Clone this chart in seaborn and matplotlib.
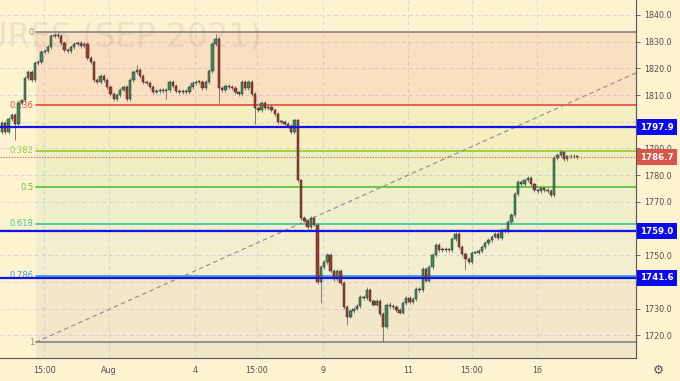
import seaborn as sns
import matplotlib.pyplot as plt
import numpy as np
import pandas as pd

# closes of each bar, the first bar opens at first_open
first_open = 1796.0
closes = [
    1799.5, 1796.0, 1801.0, 1802.5, 1799.0, 1807.0, 1808.0, 1816.5, 1818.5, 1815.6,
    1822.0, 1822.5, 1826.0, 1826.5, 1828.0, 1832.0, 1832.5, 1832.0, 1829.5, 1827.0,
    1826.5, 1828.0, 1829.0, 1829.5, 1828.5, 1829.0, 1824.0, 1822.5, 1815.6, 1815.0,
    1817.0, 1815.5, 1813.0, 1810.5, 1808.5, 1810.0, 1812.0, 1813.0, 1808.5, 1815.6,
    1818.6, 1819.5, 1817.0, 1815.0, 1814.5, 1813.0, 1811.0, 1811.5, 1812.0, 1811.5,
    1812.0, 1815.0, 1813.5, 1811.5, 1811.0, 1811.5, 1811.0, 1813.0, 1814.5, 1815.0,
    1815.0, 1812.5, 1815.0, 1819.0, 1829.0, 1831.0, 1812.6, 1812.0, 1813.5, 1813.0,
    1812.5, 1811.0, 1810.5, 1815.0, 1812.5, 1815.0, 1810.5, 1805.0, 1804.5, 1807.0,
    1805.0, 1805.5, 1804.5, 1803.0, 1800.0, 1800.0, 1799.2, 1798.5, 1796.0, 1800.5,
    1778.0, 1764.0, 1763.0, 1760.5, 1764.0, 1761.5, 1740.0, 1745.6, 1747.5, 1750.0,
    1744.0, 1741.0, 1744.0, 1739.5, 1730.5, 1727.0, 1729.0, 1730.0, 1731.0, 1734.5,
    1734.0, 1737.0, 1733.0, 1731.5, 1733.0, 1728.0, 1723.0, 1731.5, 1731.0, 1730.5,
    1729.5, 1728.5, 1732.0, 1734.0, 1732.5, 1733.5, 1737.5, 1737.0, 1745.0, 1740.5,
    1745.5, 1750.0, 1753.8, 1752.0, 1752.3, 1752.0, 1752.0, 1756.0, 1758.0, 1753.0,
    1750.5, 1748.5, 1747.5, 1751.0, 1751.0, 1751.5, 1753.0, 1754.5, 1755.7, 1757.0,
    1758.0, 1756.5, 1759.5, 1759.0, 1762.5, 1765.0, 1773.0, 1777.5, 1776.5, 1778.0,
    1779.0, 1776.5, 1774.5, 1774.0, 1775.0, 1774.5, 1774.0, 1772.5, 1786.5, 1787.5,
    1788.5, 1786.0, 1787.0, 1787.3, 1787.0, 1786.7,
]
# long wicks that stick out
wick_highs = {41: 1821.3, 65: 1833.0, 111: 1738.0, 118: 1732.5, 170: 1789.5}
wick_lows = {4: 1793.0, 20: 1825.8, 50: 1808.5, 66: 1807.0, 77: 1799.0, 97: 1732.0,
             105: 1724.0, 116: 1717.6, 141: 1744.5}

fib_high = 1833.6
fib_low = 1717.4
fib_start = 10.3
fib_ratios = [0, 0.236, 0.382, 0.5, 0.618, 0.786, 1]
fib_labels = ["0", "0.236", "0.382", "0.5", "0.618", "0.786", "1"]
fib_colors = ["#8c8c8c", "#e0584a", "#9ccb3b", "#5cc43f", "#45c990", "#3f9fd4", "#8c8c8c"]
fib_alphas = [0.12, 0.12, 0.10, 0.10, 0.08, 0.05, 0.10]

trend_x = [10.3, 220.6]
trend_y = [1717.4, 1833.6]

levels = [1797.9, 1759.0, 1741.6]
last_price = 1786.7

price_ticks = [1720, 1730, 1740, 1750, 1760, 1770, 1780, 1790, 1800, 1810, 1820, 1830, 1840]
hidden_ticks = [1740, 1760, 1800]  # covered by the level boxes
time_ticks = [12.8, 32.6, 58.7, 77.6, 97.7, 123.6, 143.0, 162.8]
time_labels = ["15:00", "Aug", "4", "15:00", "9", "11", "15:00", "16"]

bg = "#fef3d1"
sns.set_style("white")
plt.rcParams['font.family'] = ['DejaVu Sans']

fig = plt.figure(figsize=(6.8, 3.81), dpi=100, facecolor=bg)
ax = fig.add_axes([0, 23 / 381, 636 / 680, 358 / 381])
ax.set_facecolor(bg)
ax.set_xlim(-0.6, 192.9)
ax.set_ylim(1711.5, 1845.6)

# grid
for p in price_ticks:
    ax.axhline(p, color="#d6d9dc", lw=0.7, ls=(0, (4, 3)), zorder=0.5)
for t in time_ticks:
    ax.axvline(t, color="#d6d9dc", lw=0.7, ls=(0, (4, 3)), zorder=0.5)

# watermark, behind everything
ax.text(262 / 636, 1 - 47 / 358, "GOLD FUTURES (SEP 2021)", transform=ax.transAxes,
        ha="right", va="baseline", fontsize=23.5, color="#8a8a8a", alpha=0.15, zorder=0.6)

# fib zones
prices = [fib_high - r * (fib_high - fib_low) for r in fib_ratios]
xr = [fib_start, 300]
for k in range(1, len(prices)):
    ax.fill_between(xr, prices[k], prices[k - 1], color=fib_colors[k], alpha=fib_alphas[k],
                    lw=0, zorder=1)
ax.fill_between(xr, 1690, prices[-1], color=fib_colors[-1], alpha=0.12, lw=0, zorder=1)
for p, lab, c in zip(prices, fib_labels, fib_colors):
    ax.plot(xr, [p, p], color=c, lw=1.3, zorder=2)
    ax.text(fib_start - 0.6, p, lab, color=c, fontsize=6, ha="right", va="center", zorder=3)

trend = pd.DataFrame({"x": trend_x, "y": trend_y})
sns.lineplot(data=trend, x="x", y="y", ax=ax, color="#8c8c8c", lw=0.8,
             linestyle=(0, (4, 3)), zorder=2)

# candles
opens = [first_open] + closes[:-1]
idx = np.arange(len(closes))
o = np.array(opens)
c = np.array(closes)
top = np.maximum(o, c)
bot = np.minimum(o, c)
hi = np.array([wick_highs.get(i, top[i] + 0.7) for i in idx])
lo = np.array([wick_lows.get(i, bot[i] - 0.7) for i in idx])
up = c >= o
ax.vlines(idx, lo, hi, color="#6b6b6b", lw=0.6, zorder=3)
ax.bar(idx, np.maximum(top - bot, 0.35), bottom=bot, width=0.72,
       color=np.where(up, "#3d8c5c", "#a9382b"), edgecolor="#2a2a2a", lw=0.35, zorder=4)

# horizontal levels
for p in levels:
    ax.axhline(p, color="#1414e6", lw=1.6, zorder=5)
ax.axhline(last_price, color="#d9534a", lw=0.8, ls=(0, (1, 1.5)), zorder=5)

# axes
for s in ["top", "left"]:
    ax.spines[s].set_visible(False)
for s in ["right", "bottom"]:
    ax.spines[s].set_color("#555555")
    ax.spines[s].set_linewidth(0.8)
ax.yaxis.tick_right()
ax.set_yticks(price_ticks)
ax.set_yticklabels(["" if p in hidden_ticks else f"{p:.1f}" for p in price_ticks])
ax.set_xticks(time_ticks)
ax.set_xticklabels(time_labels)
ax.tick_params(axis="both", labelsize=5.8, colors="#555555", length=3, width=0.6,
               labelcolor="#505050", pad=3)
ax.set_xlabel("")
ax.set_ylabel("")

# price labels on axis
for p, fc in [(levels[0], "#0a0af0"), (levels[1], "#0a0af0"), (levels[2], "#0a0af0"),
              (last_price, "#d9574a")]:
    ax.text(1.0 + 4 / 636, p, f"{p:.1f}", transform=ax.get_yaxis_transform(), ha="left",
            va="center", fontsize=6.2, fontweight="bold", color="white", zorder=10,
            clip_on=False, bbox=dict(boxstyle="square,pad=0.4", fc=fc, ec="none"))

fig.text(658 / 680, 1 - 370 / 381, "\u2699", ha="center", va="center", fontsize=9, color="#555555")

fig.savefig("out.png", dpi=100, facecolor=bg)
